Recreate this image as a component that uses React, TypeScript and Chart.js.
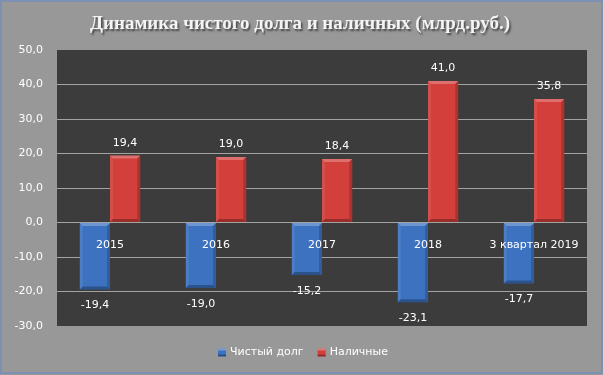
import { useEffect, useRef } from "react";
import { Chart, registerables } from "chart.js";

Chart.register(...registerables);

const categories = ["2015", "2016", "2017", "2018", "3 квартал 2019"];
const netDebt = [-19.4, -19.0, -15.2, -23.1, -17.7];
const cash = [19.4, 19.0, 18.4, 41.0, 35.8];
const seriesNames = ["Чистый долг", "Наличные"];
const titleText = "Динамика чистого долга и наличных (млрд.руб.)";
const yMin = -30;
const yMax = 50;
const yStep = 10;

const BLUE = "#3d72c1";
const RED = "#d33f3b";
const fmt = (v: number) => v.toFixed(1).replace(".", ",");

const decorPlugin = {
  id: "decor",
  beforeDraw(chart: any) {
    const { ctx, width, height, chartArea } = chart;
    ctx.save();
    ctx.fillStyle = "#989898";
    ctx.fillRect(0, 0, width, height);
    ctx.strokeStyle = "#7c90b2";
    ctx.lineWidth = 2;
    ctx.strokeRect(1, 1, width - 2, height - 3);
    ctx.fillStyle = "#3c3c3c";
    ctx.fillRect(chartArea.left, chartArea.top, chartArea.right - chartArea.left, chartArea.bottom - chartArea.top);
    ctx.restore();
  },
  afterDatasetsDraw(chart: any) {
    const { ctx } = chart;
    ctx.save();
    chart.data.datasets.forEach((ds: any, di: number) => {
      const meta = chart.getDatasetMeta(di);
      meta.data.forEach((el: any, i: number) => {
        const w = el.width;
        const l = el.x - w / 2;
        const r = el.x + w / 2;
        const t = Math.min(el.y, el.base);
        const b = Math.max(el.y, el.base);
        const e = 3;
        ctx.fillStyle = "rgba(255,255,255,0.25)";
        ctx.beginPath();
        ctx.moveTo(l, t); ctx.lineTo(r, t); ctx.lineTo(r - e, t + e); ctx.lineTo(l + e, t + e); ctx.closePath(); ctx.fill();
        ctx.fillStyle = "rgba(255,255,255,0.08)";
        ctx.beginPath();
        ctx.moveTo(l, t); ctx.lineTo(l + e, t + e); ctx.lineTo(l + e, b - e); ctx.lineTo(l, b); ctx.closePath(); ctx.fill();
        ctx.fillStyle = "rgba(0,0,0,0.18)";
        ctx.beginPath();
        ctx.moveTo(r, t); ctx.lineTo(r - e, t + e); ctx.lineTo(r - e, b - e); ctx.lineTo(r, b); ctx.closePath(); ctx.fill();
        ctx.fillStyle = "rgba(0,0,0,0.28)";
        ctx.beginPath();
        ctx.moveTo(l, b); ctx.lineTo(r, b); ctx.lineTo(r - e, b - e); ctx.lineTo(l + e, b - e); ctx.closePath(); ctx.fill();

        const v = ds.data[i] as number;
        ctx.fillStyle = "#ffffff";
        ctx.font = "11px 'DejaVu Sans'";
        ctx.textAlign = "center";
        ctx.textBaseline = "middle";
        const y = v >= 0 ? el.y - 12.5 : el.y + 16;
        ctx.fillText(fmt(v), el.x, y);
      });
    });
    ctx.restore();
  },
  afterDraw(chart: any) {
    const { ctx } = chart;
    ctx.save();
    ctx.font = "bold 19px 'Liberation Serif'";
    ctx.textAlign = "center";
    ctx.textBaseline = "alphabetic";
    ctx.shadowColor = "rgba(0,0,0,0.55)";
    ctx.shadowOffsetX = 1.5;
    ctx.shadowOffsetY = 1.5;
    ctx.shadowBlur = 2;
    ctx.fillStyle = "#f4f4f4";
    ctx.fillText(titleText, 300, 29);
    ctx.restore();

    ctx.save();
    ctx.font = "11px 'DejaVu Sans'";
    ctx.textBaseline = "middle";
    ctx.textAlign = "left";
    const box = 8, gap = 4, itemGap = 14;
    const w0 = ctx.measureText(seriesNames[0]).width;
    const w1 = ctx.measureText(seriesNames[1]).width;
    const total = box + gap + w0 + itemGap + box + gap + w1;
    let x = 303 - total / 2;
    const cy = 352.5;
    const colors = [BLUE, RED];
    [w0, w1].forEach((w, k) => {
      ctx.fillStyle = colors[k];
      ctx.fillRect(x, cy - box / 2, box, box);
      ctx.fillStyle = "rgba(255,255,255,0.3)";
      ctx.fillRect(x, cy - box / 2, box, 2);
      ctx.fillStyle = "rgba(0,0,0,0.3)";
      ctx.fillRect(x, cy + box / 2 - 2, box, 2);
      ctx.fillStyle = "#ffffff";
      ctx.fillText(seriesNames[k], x + box + gap, cy);
      x += box + gap + w + itemGap;
    });
    ctx.restore();
  },
};

export default function App() {
  const ref = useRef<HTMLCanvasElement | null>(null);
  useEffect(() => {
    document.body.style.margin = "0";
    if (!ref.current) return;
    const chart = new Chart(ref.current, {
      type: "bar",
      data: {
        labels: categories,
        datasets: [
          { label: seriesNames[0], data: netDebt, backgroundColor: BLUE, barPercentage: 1, categoryPercentage: 0.57 },
          { label: seriesNames[1], data: cash, backgroundColor: RED, barPercentage: 1, categoryPercentage: 0.57 },
        ],
      },
      options: {
        responsive: false,
        animation: false,
        layout: { padding: { left: 14, right: 16, top: 50, bottom: 49 } },
        plugins: { legend: { display: false }, title: { display: false }, tooltip: { enabled: false } },
        scales: {
          x: {
            type: "category",
            position: { y: 0 } as any,
            grid: { display: false, drawTicks: false },
            border: { display: false },
            ticks: { z: 1, color: "#ffffff", font: { family: "'DejaVu Sans'", size: 11 }, padding: 16, maxRotation: 0, autoSkip: false },
          },
          y: {
            min: yMin,
            max: yMax,
            border: { display: false },
            afterFit: (s: any) => { s.width = 43; },
            grid: {
              drawTicks: false,
              color: (c: any) => (c.tick && (c.tick.value === yMax || c.tick.value === yMin) ? "rgba(0,0,0,0)" : "#a3a3a3"),
            },
            ticks: {
              stepSize: yStep,
              color: "#ffffff",
              padding: 14,
              font: { family: "'DejaVu Sans'", size: 11 },
              callback: (v: any) => fmt(Number(v)),
            },
          },
        },
      },
      plugins: [decorPlugin],
    });
    return () => chart.destroy();
  }, []);
  return (
    <div style={{ width: 603, height: 375 }}>
      <canvas ref={ref} width={603} height={375} style={{ display: "block" }} />
    </div>
  );
}
